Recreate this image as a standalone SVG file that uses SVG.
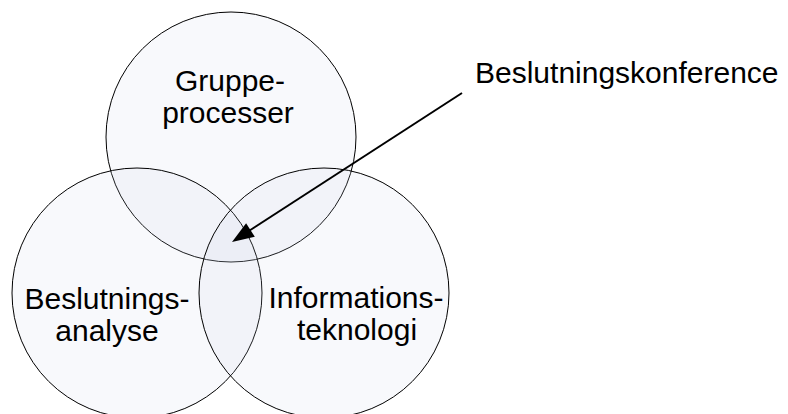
<svg xmlns="http://www.w3.org/2000/svg" width="788" height="414" viewBox="0 0 788 414">
  <style>
    .set { fill: #c8d2e8; fill-opacity: 0.13; stroke: #000; stroke-width: 1; }
    .lbl { font-family: "Liberation Sans", Arial, sans-serif; font-size: 30px; fill: #000; text-anchor: middle; }
    .callout { font-family: "Liberation Sans", Arial, sans-serif; font-size: 30px; fill: #000; }
  </style>
  <rect width="788" height="414" fill="#fff"/>

  <!-- Three overlapping sets -->
  <g id="node-gruppeprocesser">
    <circle class="set" cx="231" cy="137" r="125"/>
    <text class="lbl" x="230" y="91">Gruppe-</text>
    <text class="lbl" x="228" y="123">processer</text>
  </g>
  <g id="node-beslutningsanalyse">
    <circle class="set" cx="137" cy="293" r="125"/>
    <text class="lbl" x="107" y="309">Beslutnings-</text>
    <text class="lbl" x="107" y="341">analyse</text>
  </g>
  <g id="node-informationsteknologi">
    <circle class="set" cx="324" cy="293" r="125"/>
    <text class="lbl" x="356" y="308">Informations-</text>
    <text class="lbl" x="357" y="340">teknologi</text>
  </g>

  <!-- Callout label -->
  <g id="node-beslutningskonference">
    <text class="callout" x="475" y="83">Beslutningskonference</text>
  </g>

  <!-- Arrow pointing into the common intersection -->
  <g id="connectors">
    <line x1="462" y1="93" x2="248" y2="231.5" stroke="#000" stroke-width="2"/>
    <polygon points="232,242 246.1,223.3 254.8,236.7" fill="#000"/>
  </g>
</svg>
